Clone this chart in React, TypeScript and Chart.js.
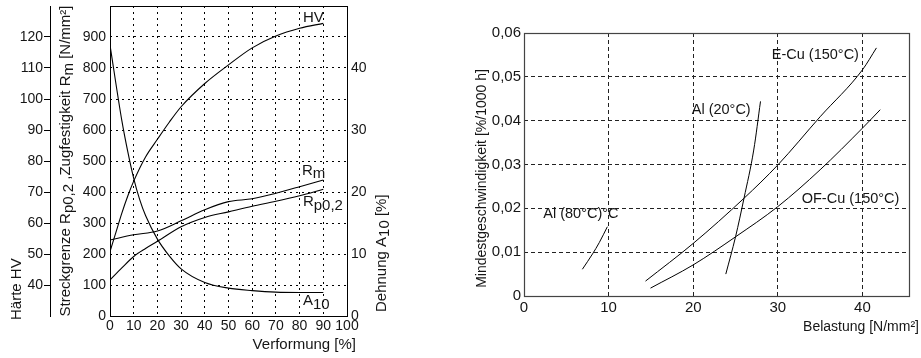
import React, { useEffect, useRef } from 'react';
import { Chart, registerables } from 'chart.js';

Chart.register(...registerables);

const FONT = "'Liberation Sans', Arial, Helvetica, sans-serif";
const TEXT = '#151515';

// ---------- Left chart: Verformung ----------
const verfTicks = [0, 10, 20, 30, 40, 50, 60, 70, 80, 90, 100];
const strengthTicks = [0, 100, 200, 300, 400, 500, 600, 700, 800, 900];
const hardnessTicks = [40, 50, 60, 70, 80, 90, 100, 110, 120];
const elongTicks = [0, 10, 20, 30, 40];

const hvX = [0, 2.5, 5, 7.5, 10, 15, 20, 25, 30, 40, 50, 60, 70, 80, 90];
const hvY = [50.8, 57, 63.2, 68.7, 73.5, 81.3, 87, 92.5, 97.5, 105, 111, 116.5, 120.3, 122.8, 124.4];

const rmX = [0, 10, 20, 30, 40, 50, 60, 70, 80, 90];
const rmY = [245, 262, 274, 307, 343, 369, 378, 396, 417, 439];

const rpX = [0, 5, 10, 15, 20, 30, 40, 50, 60, 70, 80, 90];
const rpY = [116, 155, 192, 218, 241, 288, 318, 336, 354, 370, 388, 409];

const a10X = [0, 5, 7.5, 10, 12.5, 15, 20, 25, 30, 40, 50, 60, 70, 80, 90];
const a10Y = [43.7, 31.5, 26.5, 22.2, 18.8, 16.2, 12.4, 9.7, 7.6, 5.4, 4.5, 4.1, 3.85, 3.8, 3.8];

// ---------- Right chart: Belastung ----------
const loadTicks = [0, 10, 20, 30, 40];
const rateTicks = [0, 0.01, 0.02, 0.03, 0.04, 0.05, 0.06];

const al80X = [6.9, 8.1, 8.9, 9.85];
const al80Y = [0.0061, 0.0096, 0.0122, 0.0158];

const al20X = [23.85, 25.0, 26.0, 27.15, 27.95];
const al20Y = [0.005, 0.0135, 0.0223, 0.0333, 0.0444];

const ecuX = [14.36, 20, 26, 30, 35, 40, 41.65];
const ecuY = [0.0034, 0.012, 0.0223, 0.0299, 0.0409, 0.0516, 0.0566];

const ofcuX = [14.95, 20, 25, 30, 35, 40, 42.1];
const ofcuY = [0.0018, 0.0071, 0.0135, 0.0204, 0.0288, 0.0383, 0.0425];

type Seg = [string, boolean];

const leftLabels: { segs: Seg[]; x: number; y: number }[] = [
  { segs: [['HV', false]], x: 81.4, y: 950 },
  { segs: [['R', false], ['m', true]], x: 81.0, y: 456 },
  { segs: [['R', false], ['p0,2', true]], x: 81.4, y: 354 },
  { segs: [['A', false], ['10', true]], x: 81.4, y: 34 },
];

const rightLabels = [
  { text: 'E-Cu (150°C)', x: 29.28, y: 0.054 },
  { text: 'Al (20°C)', x: 19.82, y: 0.0415 },
  { text: 'OF-Cu (150°C)', x: 32.82, y: 0.0212 },
  { text: 'Al (80°C)°C', x: 2.28, y: 0.0179 },
];

function drawRich(
  ctx: CanvasRenderingContext2D,
  segs: Seg[],
  x: number,
  y: number,
  size: number,
  align: 'left' | 'center' | 'right',
  rot = 0
) {
  ctx.save();
  ctx.font = `${size}px ${FONT}`;
  ctx.fillStyle = TEXT;
  ctx.textAlign = 'left';
  ctx.textBaseline = 'alphabetic';
  const widths = segs.map((s) => ctx.measureText(s[0]).width);
  const total = widths.reduce((a, b) => a + b, 0);
  ctx.translate(x, y);
  ctx.rotate(rot);
  let cx = align === 'left' ? 0 : align === 'center' ? -total / 2 : -total;
  segs.forEach((s, i) => {
    ctx.fillText(s[0], cx, s[1] ? size * 0.22 : 0);
    cx += widths[i];
  });
  ctx.restore();
}

const pts = (xs: number[], ys: number[]) => xs.map((x, i) => ({ x, y: ys[i] }));

const lineDs = (label: string, xs: number[], ys: number[], yAxisID: string, w = 1.1) => ({
  label,
  data: pts(xs, ys),
  yAxisID,
  borderColor: '#000',
  borderWidth: w,
  pointRadius: 0,
  fill: false,
  cubicInterpolationMode: 'monotone' as const,
});

const setTicks = (arr: number[]) => (s: any) => {
  s.ticks = arr.map((v) => ({ value: v }));
};

const fitW = (w: number) => (s: any) => {
  s.width = w;
  s.paddingTop = 0;
  s.paddingBottom = 0;
};
const fitH = (h: number) => (s: any) => {
  s.height = h;
  s.paddingLeft = 0;
  s.paddingRight = 0;
};

function frame(ctx: CanvasRenderingContext2D, a: any, color: string, w: number) {
  ctx.save();
  ctx.strokeStyle = color;
  ctx.lineWidth = w;
  const x0 = Math.round(a.left) + 0.5;
  const x1 = Math.round(a.right) + 0.5;
  const y0 = Math.round(a.top) + 0.5;
  const y1 = Math.round(a.bottom) + 0.5;
  ctx.strokeRect(x0, y0, x1 - x0, y1 - y0);
  ctx.restore();
}

const leftDecor = {
  id: 'leftDecor',
  afterDraw(chart: any) {
    const ctx = chart.ctx as CanvasRenderingContext2D;
    const a = chart.chartArea;
    const sx = chart.scales.x;
    const sy = chart.scales.y;
    frame(ctx, a, '#000', 1);
    drawRich(ctx, [['Härte HV', false]], a.left - 89.5, a.bottom + 4, 15, 'left', -Math.PI / 2);
    drawRich(
      ctx,
      [
        ['Streckgrenze R', false],
        ['p0,2', true],
        [' ,Zugfestigkeit R', false],
        ['m', true],
        [' [N/mm²]', false],
      ],
      a.left - 40.5,
      (a.top + a.bottom) / 2,
      15,
      'center',
      -Math.PI / 2
    );
    drawRich(ctx, [['Dehnung A', false], ['10', true], [' [%]', false]], a.right + 39, a.bottom - 4, 15, 'left', -Math.PI / 2);
    drawRich(ctx, [['Verformung [%]', false]], a.right + 9, a.bottom + 33, 15, 'right');
    leftLabels.forEach((l) => {
      drawRich(ctx, l.segs, sx.getPixelForValue(l.x), sy.getPixelForValue(l.y), 15, 'left');
    });
  },
};

const rightDecor = {
  id: 'rightDecor',
  afterDraw(chart: any) {
    const ctx = chart.ctx as CanvasRenderingContext2D;
    const a = chart.chartArea;
    const sx = chart.scales.x;
    const sy = chart.scales.y;
    frame(ctx, a, '#444', 1.2);
    drawRich(ctx, [['Mindestgeschwindigkeit [%/1000 h]', false]], a.left - 38.5, (a.top + a.bottom) / 2 + 14, 14, 'center', -Math.PI / 2);
    drawRich(ctx, [['Belastung [N/mm²]', false]], a.right + 10, a.bottom + 34.5, 14, 'right');
    rightLabels.forEach((l) => {
      drawRich(ctx, [[l.text, false]], sx.getPixelForValue(l.x), sy.getPixelForValue(l.y), 14.5, 'left');
    });
  },
};

const tickFont = (size: number) => ({ family: FONT, size });

function leftConfig(): any {
  return {
    type: 'line',
    data: {
      datasets: [
        lineDs('HV', hvX, hvY, 'yHV'),
        lineDs('Rm', rmX, rmY, 'y'),
        lineDs('Rp0,2', rpX, rpY, 'y'),
        lineDs('A10', a10X, a10Y, 'yA'),
      ],
    },
    options: {
      responsive: false,
      animation: false,
      devicePixelRatio: 1,
      events: [],
      layout: { padding: { top: 6, right: 53, left: 0, bottom: 0 }, autoPadding: false },
      plugins: { legend: { display: false }, tooltip: { enabled: false } },
      scales: {
        x: {
          type: 'linear',
          position: 'bottom',
          min: 0,
          max: 100,
          afterBuildTicks: setTicks(verfTicks),
          afterFit: fitH(42),
          ticks: { autoSkip: false, maxRotation: 0, minRotation: 0, padding: 2, color: TEXT, font: tickFont(14) },
          grid: { color: '#000', lineWidth: 1, drawTicks: false },
          border: { display: false, dash: [2, 4] },
        },
        yHV: {
          type: 'linear',
          position: 'left',
          weight: 2,
          min: 30,
          max: 130,
          afterBuildTicks: setTicks(hardnessTicks),
          afterFit: fitW(50),
          ticks: { padding: 1, color: TEXT, font: tickFont(14) },
          grid: { drawOnChartArea: false, drawTicks: true, tickLength: 6, tickColor: '#000', tickWidth: 1, color: '#000' },
          border: { display: true, color: '#000', width: 1 },
        },
        y: {
          type: 'linear',
          position: 'left',
          weight: 1,
          min: 0,
          max: 1000,
          afterBuildTicks: setTicks(strengthTicks),
          afterFit: fitW(60),
          ticks: { padding: 4, color: TEXT, font: tickFont(14) },
          grid: { color: '#000', lineWidth: 1, drawTicks: false },
          border: { display: false, dash: [2, 4] },
        },
        yA: {
          type: 'linear',
          position: 'right',
          min: 0,
          max: 50,
          afterBuildTicks: setTicks(elongTicks),
          afterFit: fitW(50),
          ticks: { padding: 4, color: TEXT, font: tickFont(14) },
          grid: { drawOnChartArea: false, drawTicks: false },
          border: { display: false },
        },
      },
    },
    plugins: [leftDecor],
  };
}

function rightConfig(): any {
  return {
    type: 'line',
    data: {
      datasets: [
        lineDs('Al (80°C)', al80X, al80Y, 'y', 1),
        lineDs('Al (20°C)', al20X, al20Y, 'y', 1),
        lineDs('E-Cu (150°C)', ecuX, ecuY, 'y', 1),
        lineDs('OF-Cu (150°C)', ofcuX, ofcuY, 'y', 1),
      ],
    },
    options: {
      responsive: false,
      animation: false,
      devicePixelRatio: 1,
      events: [],
      layout: { padding: { top: 33, right: 12, left: 0, bottom: 0 }, autoPadding: false },
      plugins: { legend: { display: false }, tooltip: { enabled: false } },
      scales: {
        x: {
          type: 'linear',
          position: 'bottom',
          min: 0,
          max: 45.5,
          afterBuildTicks: setTicks(loadTicks),
          afterFit: fitH(62),
          ticks: { autoSkip: false, maxRotation: 0, minRotation: 0, padding: 3, color: TEXT, font: tickFont(15) },
          grid: { color: '#222', lineWidth: 1, drawTicks: false },
          border: { display: false, dash: [4, 3] },
        },
        y: {
          type: 'linear',
          position: 'left',
          min: 0,
          max: 0.06,
          afterBuildTicks: setTicks(rateTicks),
          afterFit: fitW(74),
          ticks: {
            padding: 3,
            color: TEXT,
            font: tickFont(15),
            callback: (v: number) => (v === 0 ? '0' : Number(v).toFixed(2).replace('.', ',')),
          },
          grid: { color: '#222', lineWidth: 1, drawTicks: false },
          border: { display: false, dash: [4, 3] },
        },
      },
    },
    plugins: [rightDecor],
  };
}

export default function App() {
  const leftRef = useRef<HTMLCanvasElement>(null);
  const rightRef = useRef<HTMLCanvasElement>(null);

  useEffect(() => {
    const c1 = new Chart(leftRef.current as HTMLCanvasElement, leftConfig());
    const c2 = new Chart(rightRef.current as HTMLCanvasElement, rightConfig());
    return () => {
      c1.destroy();
      c2.destroy();
    };
  }, []);

  return (
    <div style={{ position: 'absolute', left: 0, top: 0, width: 921, height: 358, background: '#fff' }}>
      <canvas
        ref={leftRef}
        width={450}
        height={358}
        style={{ position: 'absolute', left: 0, top: 0, width: 450, height: 358 }}
      />
      <canvas
        ref={rightRef}
        width={471}
        height={358}
        style={{ position: 'absolute', left: 450, top: 0, width: 471, height: 358 }}
      />
    </div>
  );
}
